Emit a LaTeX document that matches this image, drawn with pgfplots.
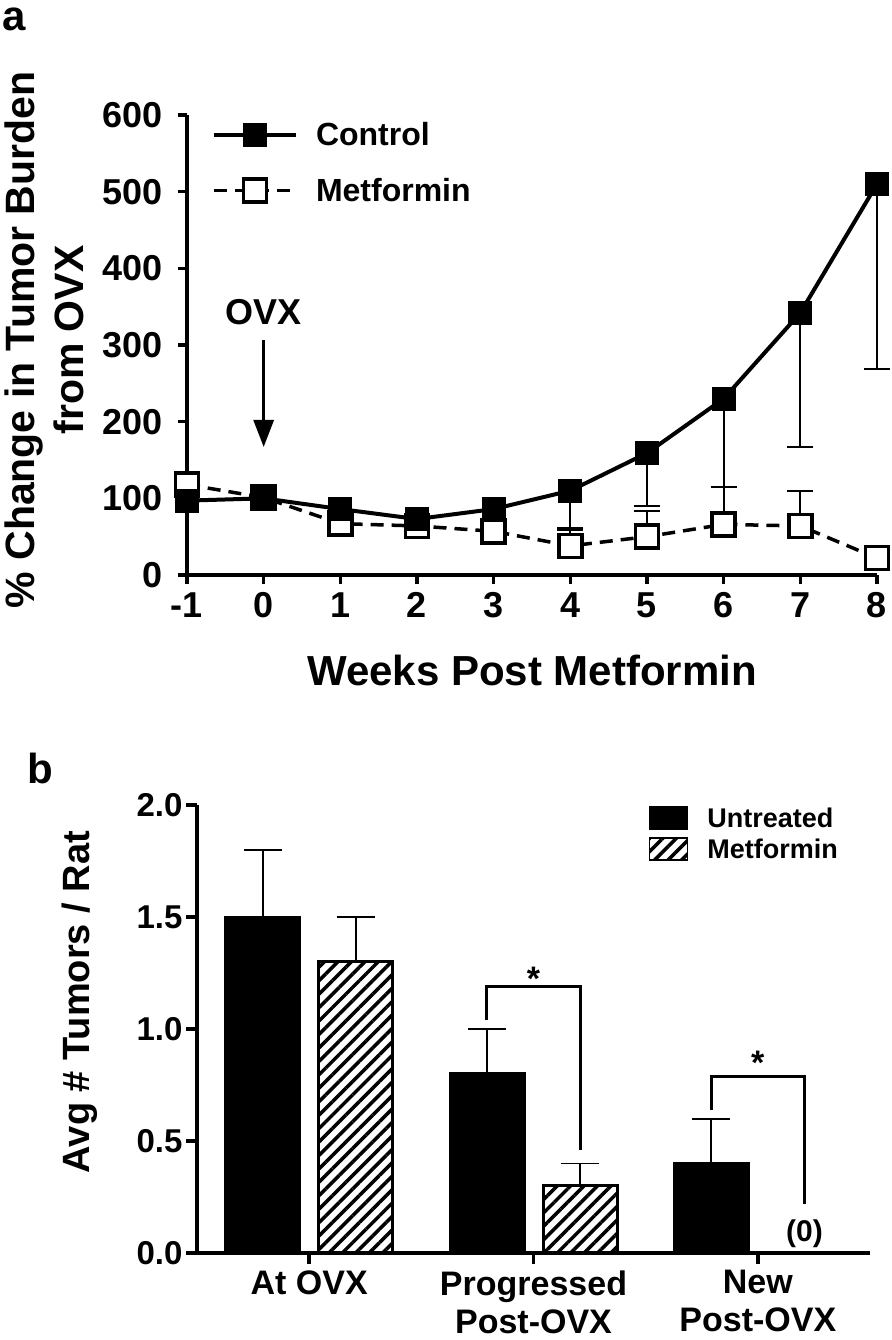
\documentclass[border=0pt]{standalone}
\usepackage{fontspec}
\setmainfont{Liberation Sans}
\usepackage{pgfplots}
\pgfplotsset{compat=1.18}
\usetikzlibrary{patterns.meta,arrows.meta}
\newcommand{\fs}[2][1]{\fontsize{#2}{#2}\selectfont\bfseries}
\begin{document}
\begin{tikzpicture}
\useasboundingbox (0pt,0pt) rectangle (891pt,-1340pt);
% panel letters
\node[anchor=base west, inner sep=0pt, font=\fs{42}] at (2pt,-31pt) {a};
\node[anchor=base west, inner sep=0pt, font=\fs{42}] at (27pt,-783pt) {b};
% axis titles (outside axes)
\node[rotate=90, align=center, font=\fontsize{41}{49}\selectfont\bfseries] at (44pt,-340pt) {\% Change in Tumor Burden\\from OVX};
\node[anchor=base, font=\fs{42}] at (532pt,-685pt) {Weeks Post Metformin};
\node[rotate=90, font=\fs{38}] at (80pt,-1002pt) {Avg \# Tumors / Rat};

% ---------------- panel a ----------------
\begin{axis}[
  at={(187pt,-575pt)}, anchor=south west,
  scale only axis, width=690pt, height=460pt,
  xmin=-1, xmax=8, ymin=0, ymax=600,
  axis x line*=bottom, axis y line*=left,
  axis line style={line width=4pt},
  tick align=outside, tick pos=left,
  major tick length=9pt,
  every tick/.style={black, line width=3.5pt},
  xtick={-1,0,...,8}, xticklabels={-1,0,1,2,3,4,5,6,7,8},
  ytick={0,100,...,600}, yticklabels={0,100,200,300,400,500,600},
  xticklabel style={font=\fs{36}, yshift=-5pt},
  yticklabel style={font=\fs{36}, xshift=-12pt},
  clip=false,
  reverse legend,
  legend cell align=left,
  legend image code/.code={\draw[mark repeat=2,mark phase=2,#1] plot coordinates {(0pt,0pt) (41pt,0pt) (82pt,0pt)};},
  legend style={at={(0.036,0.995)}, anchor=north west, draw=none, fill=none,
    font=\fs{32}, row sep=22pt, inner sep=0pt,
    nodes={inner sep=0pt, minimum height=34pt},
    /tikz/every odd column/.append style={column sep=18pt}},
]
\addplot[black, line width=3.5pt, dash pattern=on 13pt off 8pt,
  mark=square*, mark size=11.5pt, mark options={solid, fill=white, line width=3.5pt},
  error bars/.cd, y dir=plus, y explicit,
  error bar style={line width=2pt, solid},
  error mark options={rotate=90, line width=2pt, mark size=13pt, solid}]
coordinates {(-1,118) (0,101) (1,67) (2,64) (3,57) (4,38) += (0,21) (5,50) += (0,34) (6,66) += (0,49) (7,64) += (0,45) (8,22)};
\addlegendentry{Metformin}
\addplot[black, line width=4pt,
  mark=square*, mark size=11.5pt, mark options={solid, fill=black, line width=1pt},
  error bars/.cd, y dir=minus, y explicit,
  error bar style={line width=2pt},
  error mark options={rotate=90, line width=2pt, mark size=13pt}]
coordinates {(-1,97) (0,100) (1,86) (2,73) -= (0,18) (3,86) -= (0,36) (4,110) -= (0,49) (5,159) -= (0,69) (6,230) -= (0,115) (7,342) -= (0,175) (8,510) -= (0,241)};
\addlegendentry{Control}
\node[font=\fs{36}] at (axis cs:0,343) {OVX};
\draw[line width=3pt, -{Triangle[length=27pt,width=20pt]}] (axis cs:0,306) -- (axis cs:0,167);
\end{axis}

% ---------------- panel b ----------------
\begin{axis}[
  at={(197pt,-1253pt)}, anchor=south west,
  scale only axis, width=673pt, height=448pt,
  xmin=-0.5, xmax=2.5, ymin=0, ymax=2,
  axis x line*=bottom, axis y line*=left,
  axis line style={line width=4pt},
  tick align=outside, tick pos=left,
  major tick length=11pt,
  every tick/.style={black, line width=3.5pt},
  xtick={0,1,2}, xticklabels={At OVX, Progressed\\Post-OVX, New\\Post-OVX},
  xticklabel style={align=center, font=\fontsize{34}{38}\selectfont\bfseries, yshift=-3pt},
  ytick={0,0.5,1,1.5,2}, yticklabels={0.0,0.5,1.0,1.5,2.0},
  yticklabel style={font=\fs{33}},
  ybar=19pt, bar width=74pt,
  clip=false,
  legend cell align=left,
  legend image code/.code={\draw[#1, line width=1.5pt] (0pt,-11pt) rectangle (38pt,11pt);},
  legend style={at={(0.671,0.998)}, anchor=north west, draw=none, fill=none,
    font=\fs{27}, row sep=7pt, inner sep=0pt,
    nodes={inner sep=0pt, minimum height=24pt},
    /tikz/every odd column/.append style={column sep=19pt}},
]
\addplot[fill=black, draw=black, line width=3pt,
  error bars/.cd, y dir=plus, y explicit,
  error bar style={line width=1.8pt},
  error mark options={rotate=90, line width=1.8pt, mark size=19pt}]
coordinates {(0,1.5) += (0,0.3) (1,0.8) += (0,0.2) (2,0.4) += (0,0.2)};
\addlegendentry{Untreated}
\addplot[fill=white, pattern={Lines[angle=45,distance=9.5pt,line width=3.5pt]}, draw=black, line width=3pt,
  error bars/.cd, y dir=plus, y explicit,
  error bar style={line width=1.8pt},
  error mark options={rotate=90, line width=1.8pt, mark size=19pt}]
coordinates {(0,1.3) += (0,0.2) (1,0.3) += (0,0.1) (2,0)};
\addlegendentry{Metformin}
\draw[line width=3pt] (axis cs:0.792,1.04) -- (axis cs:0.792,1.19) -- (axis cs:1.208,1.19) -- (axis cs:1.208,0.46);
\draw[line width=3pt] (axis cs:1.792,0.64) -- (axis cs:1.792,0.79) -- (axis cs:2.208,0.79) -- (axis cs:2.208,0.22);
\node[anchor=base, inner sep=0pt, font=\fs{34}] at (axis cs:1,1.17) {*};
\node[anchor=base, inner sep=0pt, font=\fs{34}] at (axis cs:2,0.795) {*};
\node[anchor=base, inner sep=0pt, font=\fs{30}] at (axis cs:2.208,0.05) {(0)};
\end{axis}
\end{tikzpicture}
\end{document}
